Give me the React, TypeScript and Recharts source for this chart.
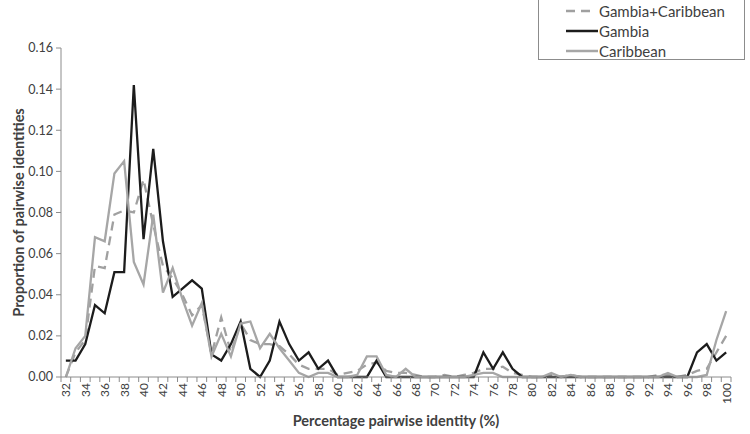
import { LineChart, Line, XAxis, YAxis } from "recharts";

// percentage pairwise identity categories
const categories = [
  32, 33, 34, 35, 36, 37, 38, 39, 40, 41, 42, 43, 44, 45, 46, 47, 48, 49, 50,
  51, 52, 53, 54, 55, 56, 57, 58, 59, 60, 61, 62, 63, 64, 65, 66, 67, 68, 69,
  70, 71, 72, 73, 74, 75, 76, 77, 78, 79, 80, 81, 82, 83, 84, 85, 86, 87, 88,
  89, 90, 91, 92, 93, 94, 95, 96, 97, 98, 99, 100,
];

const gambiaCaribbean = [
  0, 0.012, 0.018, 0.054, 0.053, 0.079, 0.081, 0.08, 0.096, 0.074, 0.054,
  0.048, 0.04, 0.03, 0.035, 0.011, 0.029, 0.012, 0.026, 0.018, 0.016, 0.016,
  0.015, 0.011, 0.006, 0.004, 0.004, 0.004, 0.001, 0.002, 0.003, 0.006, 0.007,
  0.003, 0.002, 0.002, 0.001, 0, 0, 0.001, 0, 0.001, 0.002, 0.004, 0.004,
  0.005, 0.002, 0.001, 0, 0, 0.001, 0, 0.001, 0, 0, 0, 0, 0, 0, 0, 0, 0.001,
  0.001, 0, 0.001, 0.003, 0.004, 0.012, 0.02,
];

const gambia = [
  0.008, 0.008, 0.016, 0.035, 0.031, 0.051, 0.051, 0.142, 0.067, 0.111, 0.066,
  0.039, 0.043, 0.047, 0.043, 0.011, 0.008, 0.016, 0.027, 0.004, 0, 0.008,
  0.027, 0.016, 0.008, 0.012, 0.004, 0.008, 0, 0, 0, 0, 0.008, 0, 0, 0, 0, 0,
  0, 0, 0, 0, 0, 0.012, 0.004, 0.012, 0.004, 0, 0, 0, 0, 0, 0, 0, 0, 0, 0, 0,
  0, 0, 0, 0, 0, 0, 0, 0.012, 0.016, 0.008, 0.012,
];

const caribbean = [
  0, 0.014, 0.02, 0.068, 0.066, 0.099, 0.105, 0.056, 0.045, 0.079, 0.041,
  0.053, 0.038, 0.025, 0.036, 0.01, 0.021, 0.01, 0.026, 0.027, 0.014, 0.021,
  0.014, 0.008, 0.002, 0, 0.002, 0.002, 0, 0, 0.001, 0.01, 0.01, 0.001, 0,
  0.004, 0, 0, 0, 0, 0, 0, 0.001, 0.002, 0.002, 0, 0, 0, 0, 0, 0.002, 0, 0.001,
  0, 0, 0, 0, 0, 0, 0, 0, 0, 0.002, 0, 0, 0, 0.001, 0.018, 0.032,
];

const yTicks = [0, 0.02, 0.04, 0.06, 0.08, 0.1, 0.12, 0.14, 0.16];

// tick marks sit between categories, like Excel; labels on even categories
const xBoundaryTicks = [...categories.map((c) => c - 0.5), 100.5];

const data = categories.map((pct, i) => ({
  pct,
  combined: gambiaCaribbean[i],
  gambia: gambia[i],
  caribbean: caribbean[i],
}));

const FONT = "Lato, 'Open Sans', sans-serif";
const TEXT = "#404040";
const AXIS = "#8c8c8c";

const XTick = (props: any) => {
  const { x, y, payload, width } = props;
  const cat = payload.value + 0.5;
  if (cat % 2 !== 0 || cat > 100) return null;
  const half = width / categories.length / 2;
  return (
    <text
      x={0}
      y={0}
      transform={`translate(${x + half},${y}) rotate(-90)`}
      textAnchor="end"
      dominantBaseline="central"
      fontSize={12}
      fontFamily={FONT}
      fill={TEXT}
    >
      {cat}
    </text>
  );
};

const YTitle = (props: any) => {
  const vb = props.viewBox;
  const cx = vb.x + 18;
  const cy = vb.y + vb.height / 2;
  return (
    <text
      x={0}
      y={0}
      transform={`translate(${cx},${cy}) rotate(-90)`}
      textAnchor="middle"
      dominantBaseline="central"
      fontSize={14.5}
      fontWeight="bold"
      fontFamily={FONT}
      fill={TEXT}
    >
      Proportion of pairwise identities
    </text>
  );
};

const XTitle = (props: any) => {
  const vb = props.viewBox;
  return (
    <text
      x={vb.x + vb.width / 2}
      y={vb.y + vb.height - 8}
      textAnchor="middle"
      fontSize={14.5}
      fontWeight="bold"
      fontFamily={FONT}
      fill={TEXT}
    >
      Percentage pairwise identity (%)
    </text>
  );
};

const legendItems = [
  { name: "Gambia+Caribbean", color: "#a0a0a0", dash: "9 6" },
  { name: "Gambia", color: "#1c1c1c", dash: undefined },
  { name: "Caribbean", color: "#a6a6a6", dash: undefined },
];

export default function App() {
  return (
    <div
      style={{
        position: "absolute",
        left: 0,
        top: 0,
        width: 750,
        height: 434,
        background: "#fff",
        fontFamily: FONT,
      }}
    >
      <LineChart
        width={750}
        height={434}
        data={data}
        margin={{ top: 48, right: 19, bottom: 0, left: 0 }}
      >
        <XAxis
          dataKey="pct"
          type="number"
          domain={[31.5, 100.5]}
          ticks={xBoundaryTicks}
          interval={0}
          tickSize={5}
          tickMargin={1}
          height={57}
          stroke={AXIS}
          tick={<XTick />}
          label={XTitle}
        />
        <YAxis
          domain={[0, 0.16]}
          ticks={yTicks}
          interval={0}
          width={61}
          tickSize={5}
          tickMargin={3}
          stroke={AXIS}
          tickFormatter={(v: number) => v.toFixed(2)}
          tick={{ fill: TEXT, fontSize: 12.5, fontFamily: FONT }}
          label={YTitle}
        />
        <Line
          type="linear"
          dataKey="combined"
          stroke="#a0a0a0"
          strokeWidth={2.3}
          strokeDasharray="9 6"
          dot={false}
          isAnimationActive={false}
        />
        <Line
          type="linear"
          dataKey="gambia"
          stroke="#1c1c1c"
          strokeWidth={2.3}
          dot={false}
          isAnimationActive={false}
        />
        <Line
          type="linear"
          dataKey="caribbean"
          stroke="#a6a6a6"
          strokeWidth={2.3}
          dot={false}
          isAnimationActive={false}
        />
      </LineChart>

      {/* legend box, top right */}
      <div
        style={{
          position: "absolute",
          left: 538,
          top: -1,
          width: 205,
          height: 59,
          border: `1px solid ${AXIS}`,
          background: "#fff",
        }}
      >
        {legendItems.map((item, i) => (
          <div
            key={item.name}
            style={{
              position: "absolute",
              left: 26,
              top: 1 + i * 20,
              height: 20,
              display: "flex",
              alignItems: "center",
              whiteSpace: "nowrap",
            }}
          >
            <svg width={34} height={6} style={{ display: "block" }}>
              <line
                x1={1}
                y1={3}
                x2={item.dash ? 26 : 33}
                y2={3}
                stroke={item.color}
                strokeWidth={2.5}
                strokeDasharray={item.dash}
              />
            </svg>
            <span style={{ fontSize: 15, color: TEXT, lineHeight: "20px" }}>
              {item.name}
            </span>
          </div>
        ))}
      </div>
    </div>
  );
}
